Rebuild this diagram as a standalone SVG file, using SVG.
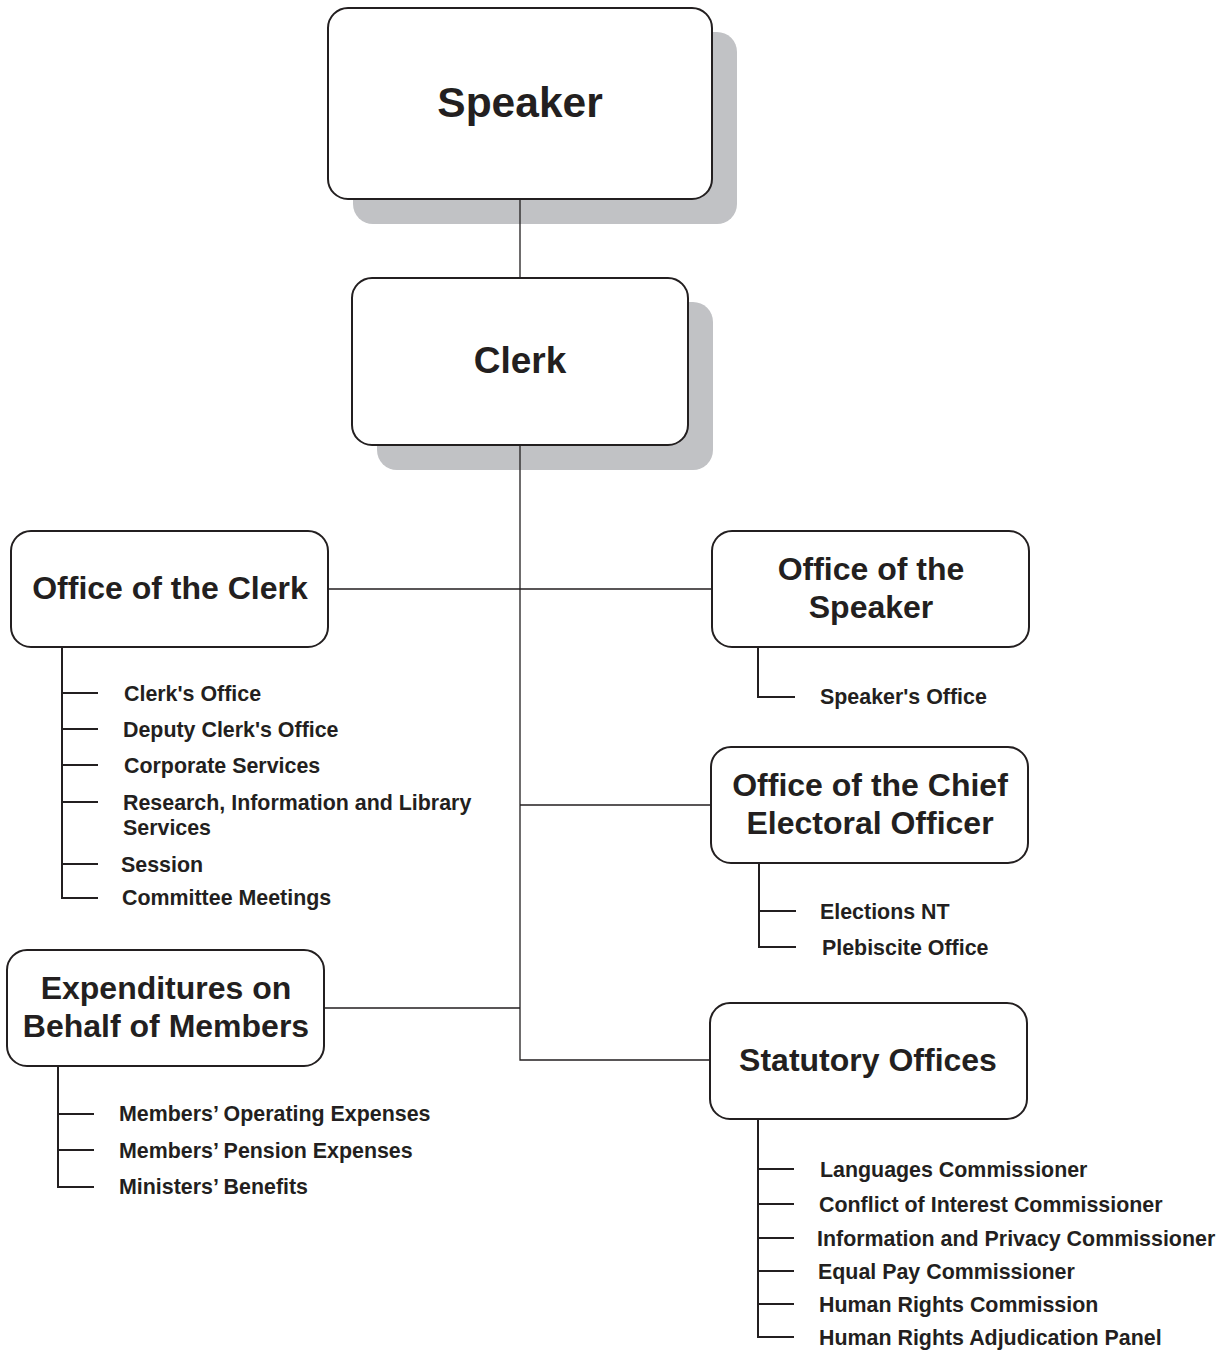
<svg xmlns="http://www.w3.org/2000/svg" width="1228" height="1350" viewBox="0 0 1228 1350">
<style>
.box{fill:#fff;stroke:#231f20;stroke-width:2}
.shadow{fill:#c1c2c5}
.con{fill:none;stroke:#231f20;stroke-width:1.3}
.sub{fill:none;stroke:#231f20;stroke-width:2}
text{font-family:"Liberation Sans",Arial,sans-serif;font-weight:bold;fill:#231f20}
.t1{font-size:32px;text-anchor:middle}
.t2{font-size:21.4px}
</style>
<rect width="1228" height="1350" fill="#fff"/>
<g id="speaker">
<rect class="shadow" x="353" y="32" width="384" height="192" rx="20"/>
<rect class="box" x="328" y="8" width="384" height="191" rx="20"/>
<text x="520" y="117" font-size="42.5" text-anchor="middle">Speaker</text>
</g>
<g id="clerk">
<rect class="shadow" x="377" y="302" width="336" height="168" rx="20"/>
<rect class="box" x="352" y="278" width="336" height="167" rx="20"/>
<text x="520" y="373" font-size="37" text-anchor="middle">Clerk</text>
</g>
<g id="office-clerk">
<rect class="box" x="11" y="531" width="317" height="116" rx="20"/>
<text class="t1" x="170" y="599">Office of the Clerk</text>
<text class="t2" x="124" y="701">Clerk's Office</text>
<text class="t2" x="123" y="737">Deputy Clerk's Office</text>
<text class="t2" x="124" y="773">Corporate Services</text>
<text class="t2" x="123" y="810">Research, Information and Library</text>
<text class="t2" x="123" y="835">Services</text>
<text class="t2" x="121" y="872">Session</text>
<text class="t2" x="122" y="905">Committee Meetings</text>
</g>
<g id="office-speaker">
<rect class="box" x="712" y="531" width="317" height="116" rx="20"/>
<text class="t1" x="871" y="580">Office of the</text>
<text class="t1" x="871" y="618">Speaker</text>
<text class="t2" x="820" y="704">Speaker's Office</text>
</g>
<g id="chief-electoral">
<rect class="box" x="711" y="747" width="317" height="116" rx="20"/>
<text class="t1" x="870" y="796">Office of the Chief</text>
<text class="t1" x="870" y="834">Electoral Officer</text>
<text class="t2" x="820" y="919">Elections NT</text>
<text class="t2" x="822" y="955">Plebiscite Office</text>
</g>
<g id="expenditures">
<rect class="box" x="7" y="950" width="317" height="116" rx="20"/>
<text class="t1" x="166" y="999">Expenditures on</text>
<text class="t1" x="166" y="1037">Behalf of Members</text>
<text class="t2" x="119" y="1121">Members’ Operating Expenses</text>
<text class="t2" x="119" y="1158">Members’ Pension Expenses</text>
<text class="t2" x="119" y="1194">Ministers’ Benefits</text>
</g>
<g id="statutory">
<rect class="box" x="710" y="1003" width="317" height="116" rx="20"/>
<text class="t1" x="868" y="1071">Statutory Offices</text>
<text class="t2" x="820" y="1177">Languages Commissioner</text>
<text class="t2" x="819" y="1212">Conflict of Interest Commissioner</text>
<text class="t2" x="817" y="1246">Information and Privacy Commissioner</text>
<text class="t2" x="818" y="1279">Equal Pay Commissioner</text>
<text class="t2" x="819" y="1312">Human Rights Commission</text>
<text class="t2" x="819" y="1345">Human Rights Adjudication Panel</text>
</g>
<g id="connectors">
<path class="con" d="M520 199V278M520 445V1060H710M328 589H712M520 805H711M324 1008H520"/>
<path class="sub" d="M62 647V898H98M62 693H98M62 729H98M62 765H98M62 802H98M62 864H98"/>
<path class="sub" d="M758 647V697H795"/>
<path class="sub" d="M759 863V947H796M759 911H796"/>
<path class="sub" d="M58 1066V1187H94M58 1114H94M58 1150H94"/>
<path class="sub" d="M758 1119V1337H794M758 1169H794M758 1204H794M758 1238H794M758 1271H794M758 1304H794"/>
</g>
</svg>
